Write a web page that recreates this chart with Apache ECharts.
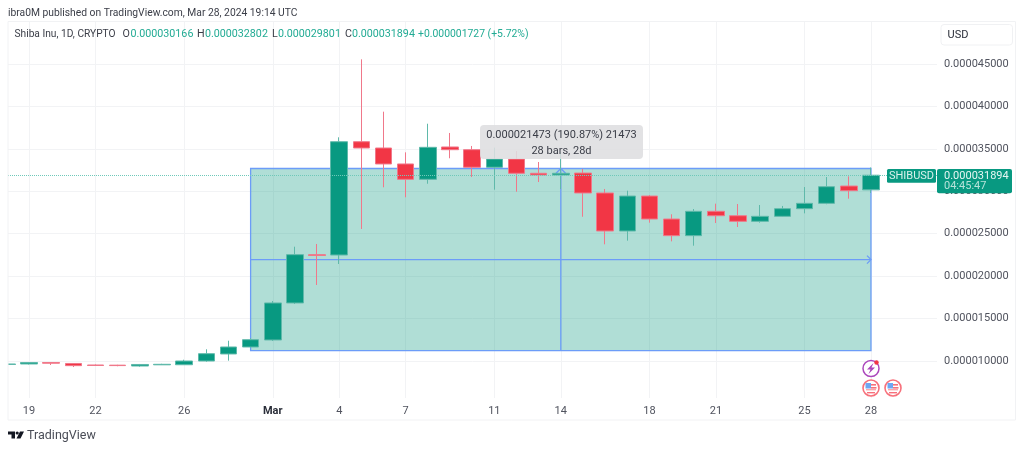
<!DOCTYPE html>
<html>
<head>
<meta charset="utf-8">
<style>
  html, body { margin: 0; padding: 0; background: #fff; }
  #chart { width: 1024px; height: 449px; }
</style>
<script src="https://cdn.jsdelivr.net/npm/echarts@6/dist/echarts.min.js"></script>
</head>
<body>
<div id="chart"></div>
<script>
// all prices are in millionths of USD
const days = ["18", "19", "20", "21", "22", "23", "24", "25", "26", "27", "28", "29", "Mar", "2", "3", "4", "5", "6", "7", "8", "9", "10", "11", "12", "13", "14", "15", "16", "17", "18", "19", "20", "21", "22", "23", "24", "25", "26", "27", "28"];
const opens = [9.59, 9.65, 9.82, 9.71, 9.53, 9.51, 9.41, 9.55, 9.56, 10.0, 10.83, 11.65, 12.48, 16.84, 22.53, 22.49, 35.84, 35.1, 33.22, 31.41, 35.22, 34.9, 32.83, 33.8, 32.12, 31.92, 32.15, 29.8, 25.32, 29.44, 26.73, 24.77, 27.64, 27.12, 26.46, 27.05, 27.95, 28.58, 30.62, 30.166];
const closes = [9.65, 9.82, 9.74, 9.45, 9.47, 9.46, 9.59, 9.61, 10.0, 10.86, 11.65, 12.51, 16.84, 22.53, 22.43, 35.84, 35.1, 33.22, 31.41, 35.18, 34.9, 32.83, 33.8, 32.12, 31.92, 32.12, 29.8, 25.32, 29.44, 26.73, 24.77, 27.64, 27.12, 26.46, 27.05, 27.95, 28.58, 30.54, 30.07, 31.894];
const lows = [9.59, 9.59, 9.53, 9.29, 9.41, 9.38, 9.33, 9.53, 9.53, 9.92, 10.04, 11.61, 12.36, 16.72, 18.96, 21.43, 25.56, 30.47, 29.29, 30.89, 33.89, 31.68, 30.19, 29.95, 31.09, 30.27, 27.0, 23.75, 24.18, 26.3, 24.1, 23.59, 26.26, 25.79, 26.3, 27.0, 27.4, 28.47, 29.13, 29.801];
const highs = [9.65, 9.88, 9.88, 9.76, 9.59, 9.55, 9.65, 9.67, 10.15, 11.38, 12.39, 12.71, 17.07, 23.47, 23.79, 36.36, 45.55, 39.38, 34.59, 37.96, 36.87, 35.34, 35.14, 34.75, 33.45, 34.66, 32.63, 30.27, 30.07, 29.56, 27.29, 27.91, 28.54, 28.5, 28.38, 28.27, 30.5, 31.68, 31.76, 32.802];
const dayTicks = [1, 4, 8, 12, 15, 18, 22, 25, 29, 32, 36, 39];
const priceTicks = [10, 15, 20, 25, 30, 35, 40, 45];
const lastClose = 31.894;
// measure tool: first bar, last bar, low price, high price
const measure = [11, 39, 11.212, 32.685];

const GREEN = "#089981";
const RED = "#f23645";
const BLUE = "#6c9cf8";
const FONT = "Roboto, sans-serif";

const legendItems = [
  [14.5, "Shiba Inu, 1D, CRYPTO", "#3a3d47", 10.2],
  [122.5, "O", "#3a3d47", 10.7], [130.5, "0.000030166", "#22ab94", 10.7],
  [197, "H", "#3a3d47", 10.7], [205, "0.000032802", "#22ab94", 10.7],
  [272, "L", "#3a3d47", 10.7], [278, "0.000029801", "#22ab94", 10.7],
  [345, "C", "#3a3d47", 10.7], [352, "0.000031894", "#22ab94", 10.7],
  [418, "+0.000001727 (+5.72%)", "#22ab94", 10.4],
];

function text(x, y, str, color, size, extra) {
  return {
    type: "text", silent: true, z: 20, x, y,
    style: Object.assign({ text: str, fill: color, font: size + "px " + FONT, verticalAlign: "middle" }, extra),
  };
}
function box(x, y, w, h, fill, extra) {
  return {
    type: "rect", silent: true, z: 15,
    shape: { x, y, width: w, height: h, r: (extra && extra.r) || 0 },
    style: Object.assign({ fill }, extra && extra.style),
  };
}

function flagIcon(cx, cy) {
  return [
    { type: "circle", silent: true, z: 15, shape: { cx, cy, r: 8 }, style: { fill: "#fff", stroke: "#f7707b", lineWidth: 1.6 } },
    box(cx - 5, cy + 1, 10, 1.4, "#f9a6ad"),
    box(cx - 4, cy + 4, 8, 1.4, "#f7707b"),
    box(cx, cy - 4, 5, 1.6, "#f7707b"),
    box(cx, cy - 1, 5.5, 1.6, "#f7707b"),
    box(cx - 5.5, cy - 5, 5.5, 5.5, "#6ea6f2"),
  ];
}

const chrome = [
  // first candle is cut by the left edge of the pane
  box(0, 22, 8, 376, "#fff"),
  { type: "rect", silent: true, z: 16, shape: { x: 8, y: 21.5, width: 1007.5, height: 398.5 }, style: { fill: "none", stroke: "#f1f2f4", lineWidth: 1 } },
  text(8, 13, "ibra0M published on TradingView.com, Mar 28, 2024 19:14 UTC", "#3a3d47", 10.3),
  ...legendItems.map(d => text(d[0], 34, d[1], d[2], d[3])),

  // currency button
  { type: "rect", silent: true, z: 15, shape: { x: 941, y: 24.5, width: 71.5, height: 20.5, r: 3 }, style: { fill: "#fff", stroke: "#f0f1f3" } },
  text(947.5, 35, "USD", "#2a2e39", 11),

  // measure tool tooltip
  box(480, 125, 163, 34, "rgba(222,222,224,0.88)", { r: 4 }),
  text(561.5, 135, "0.000021473 (190.87%) 21473", "#3a3d47", 11, { align: "center" }),
  text(561.5, 151, "28 bars, 28d", "#3a3d47", 11, { align: "center" }),

  // last price labels
  box(887, 169, 49, 13.7, GREEN, { r: 1.5 }),
  text(911.5, 176, "SHIBUSD", "#d9f1ec", 11, { align: "center" }),
  box(937, 169, 75, 24.3, GREEN, { r: 2 }),
  text(944, 176, "0.000031894", "#e6f6f3", 11),
  text(944, 186.5, "04:45:47", "#b5e2d9", 11),

  // events
  { type: "circle", silent: true, z: 15, shape: { cx: 871, cy: 368.5, r: 8 }, style: { fill: "#fff", stroke: "#ab47bc", lineWidth: 1.5 } },
  { type: "polygon", silent: true, z: 16, shape: { points: [[873.5, 363], [867, 369.5], [870.5, 369.5], [868.5, 374], [875, 367.5], [871.5, 367.5]] }, style: { fill: "#ab47bc" } },
  { type: "circle", silent: true, z: 17, shape: { cx: 876.5, cy: 362.5, r: 2.2 }, style: { fill: "#f23645" } },
  ...flagIcon(871, 388),
  ...flagIcon(893, 388),

  // logo
  { type: "polygon", silent: true, z: 15, shape: { points: [[8, 431.5], [15, 431.5], [15, 438.5], [11.5, 438.5], [11.5, 434.5], [8, 434.5]] }, style: { fill: "#131722" } },
  { type: "circle", silent: true, z: 15, shape: { cx: 17.2, cy: 433, r: 1.6 }, style: { fill: "#131722" } },
  { type: "polygon", silent: true, z: 15, shape: { points: [[20, 431.5], [24, 431.5], [20.5, 438.5], [16.5, 438.5]] }, style: { fill: "#131722" } },
  text(27, 435.5, "TradingView", "#4a4d57", 12.5),
];

function renderMeasure(params, api) {
  const [x0, top] = api.coord([api.value(0), api.value(3)]);
  const [x1, bottom] = api.coord([api.value(1), api.value(2)]);
  const midX = api.coord([(api.value(0) + api.value(1)) / 2, 0])[0];
  const midY = api.coord([0, (api.value(2) + api.value(3)) / 2])[1];
  const line = { stroke: BLUE, lineWidth: 1.3, fill: "none" };
  return {
    type: "group",
    children: [
      { type: "rect", shape: { x: x0, y: top, width: x1 - x0, height: bottom - top }, style: { fill: "rgba(8,153,129,0.32)", stroke: BLUE, lineWidth: 1.3 } },
      { type: "line", shape: { x1: x0, y1: midY, x2: x1, y2: midY }, style: line },
      { type: "line", shape: { x1: midX, y1: bottom, x2: midX, y2: top }, style: line },
      { type: "polyline", shape: { points: [[x1 - 4, midY - 4], [x1, midY], [x1 - 4, midY + 4]] }, style: line },
      { type: "polyline", shape: { points: [[midX - 5, top + 5], [midX, top], [midX + 5, top + 5]] }, style: line },
    ],
  };
}

const chart = echarts.init(document.getElementById("chart"));
chart.setOption({
  animation: false,
  textStyle: { fontFamily: FONT },
  grid: { left: 8, right: 87, top: 22, bottom: 51 },
  xAxis: {
    type: "value",
    min: 0.05,
    max: 41.98,
    axisLine: { show: false },
    axisTick: { show: false, customValues: dayTicks },
    splitLine: { show: true, lineStyle: { color: "#f2f3f5" } },
    axisLabel: {
      customValues: dayTicks,
      margin: 8,
      fontSize: 11,
      color: "#50535e",
      formatter: v => (days[v] === "Mar" ? "{m|Mar}" : days[v]),
      rich: { m: { fontWeight: "bold", fontSize: 11, color: "#2a2e39", fontFamily: FONT } },
    },
  },
  yAxis: {
    type: "value",
    position: "right",
    min: 5.64,
    max: 49.948,
    axisLine: { show: false },
    axisTick: { show: false, customValues: priceTicks },
    splitLine: { show: true, lineStyle: { color: "#f2f3f5" } },
    axisLabel: {
      customValues: priceTicks,
      margin: 7,
      fontSize: 11,
      color: "#50535e",
      formatter: v => (v / 1e6).toFixed(9),
    },
  },
  series: [
    {
      type: "custom",
      z: 1,
      clip: false,
      silent: true,
      renderItem: renderMeasure,
      encode: { x: [0, 1], y: [2, 3] },
      data: [measure],
    },
    {
      type: "candlestick",
      z: 2,
      barWidth: 17,
      encode: { x: 0, y: [1, 2, 3, 4] },
      itemStyle: {
        color: GREEN,
        color0: RED,
        borderColor: "#5fb9aa",
        borderColor0: "#f0788a",
        borderWidth: 1,
      },
      markLine: {
        silent: true,
        symbol: "none",
        label: { show: false },
        lineStyle: { color: "#6fc9b9", type: "dotted", width: 1, opacity: 1 },
        data: [{ yAxis: lastClose }],
      },
      data: days.map((d, i) => [i, opens[i], closes[i], lows[i], highs[i]]),
    },
  ],
  graphic: { elements: chrome },
});
</script>
</body>
</html>
